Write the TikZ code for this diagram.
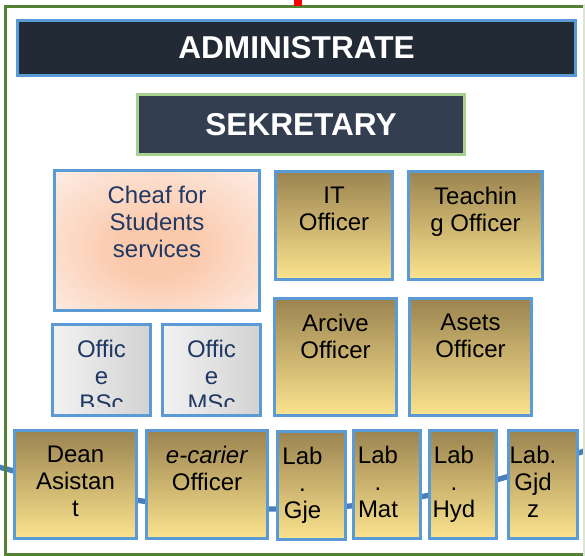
\documentclass[tikz,border=0pt]{standalone}
\usepackage{fontspec}
\setmainfont{Liberation Sans}
\usepackage{tikz}
\usetikzlibrary{positioning}
\newcommand{\pxu}{0.75pt}
\definecolor{rand}{HTML}{5B9BD5}
\definecolor{rahmen}{HTML}{548235}
\definecolor{rahmenhell}{HTML}{DCE5D5}
\definecolor{bogen}{HTML}{4A7EBB}
\definecolor{admin}{HTML}{222A35}
\definecolor{sek}{HTML}{333F50}
\definecolor{sekrand}{HTML}{A9D18E}
\definecolor{goldoben}{HTML}{9B8450}
\definecolor{goldunten}{HTML}{FBE38E}
\definecolor{grauhell}{HTML}{F2F2F2}
\definecolor{graudunkel}{HTML}{D2D2D2}
\definecolor{pfirsichinnen}{HTML}{FBCAAD}
\definecolor{pfirsichaussen}{HTML}{FDEAE0}
\definecolor{schriftblau}{HTML}{1F3864}
\pgfdeclareradialshading{pfirsich}{\pgfpoint{0bp}{-4bp}}{color(0bp)=(pfirsichinnen); color(10bp)=(pfirsichinnen); color(34bp)=(pfirsichaussen); color(50bp)=(pfirsichaussen)}

\begin{document}
\begin{tikzpicture}[x=0.75pt, y=-0.75pt, line width=2.25pt,
    kasten/.style={draw=rand, inner sep=0pt},
    gold/.style={kasten, top color=goldoben, bottom color=goldunten},
    grau/.style={kasten, left color=grauhell, right color=graudunkel},
    schrift/.style={inner sep=0pt, align=center, font=\fontsize{18}{20.25}\selectfont},
    titel/.style={text=white, font=\bfseries\fontsize{23.7}{28}\selectfont}]
    \useasboundingbox (0,0) rectangle (585,556);

    % Bogen.
    \coordinate (bogenL) at (-5,466);
    \coordinate (bogenR) at (590,449);
    \draw[color=bogen, line width=4pt] plot[smooth] coordinates {(bogenL) (142,501) (272,509) (350,506) (425,496) (503,478) (bogenR)};

    % Rahmen.
    \draw[color=rahmen, line width=2.5pt] (590,6.5) -- (5.7,6.5) -- (5.7,554.5) -- (590,554.5);
    \draw[color=rahmenhell, line width=1.5pt] (583.8,4) -- (583.8,556);
    \fill[red] (294,0) rectangle (302,6);

    % Leitung.
    \node[kasten, fill=admin, minimum width=558*\pxu, minimum height=55*\pxu, titel] (admin) at (296.5,48) {ADMINISTRATE};
    \node[kasten, draw=sekrand, fill=sek, minimum width=327*\pxu, minimum height=60*\pxu, titel] (sek) at (301,124.5) {SEKRETARY};

    % Obere Kaesten.
    \node[kasten, shading=pfirsich, minimum width=205*\pxu, minimum height=140*\pxu] (cheaf) at (157,240.5) {};
    \node[gold, minimum width=117*\pxu, minimum height=108*\pxu] (it) at (334,225.5) {};
    \node[gold, minimum width=134*\pxu, minimum height=108*\pxu] (teach) at (475.5,225.5) {};
    \node[gold, minimum width=122*\pxu, minimum height=117*\pxu] (arc) at (335.5,357) {};
    \node[gold, minimum width=122*\pxu, minimum height=117*\pxu] (asets) at (470.5,357) {};
    \node[grau, minimum width=98*\pxu, minimum height=91*\pxu] (bsc) at (101.5,370) {};
    \node[grau, minimum width=98*\pxu, minimum height=91*\pxu] (msc) at (211.5,370) {};

    \node[schrift, text=schriftblau, below=11.6pt of cheaf.north] (cheafT) {Cheaf for\\Students\\services};
    \node[schrift, below=11.6pt of it.north] (itT) {IT\\Officer};
    \node[schrift, below=11.6pt of teach.north] (teachT) {Teachin\\g Officer};
    \node[schrift, below=11.6pt of arc.north] (arcT) {Arcive\\Officer};
    \node[schrift, below=11.6pt of asets.north] (asetsT) {Asets\\Officer};
    \begin{scope}
        \clip (52,324) rectangle (262,406);
        \node[schrift, text=schriftblau, below=11.6pt of bsc.north] (bscT) {Offic\\e\\BSc};
        \node[schrift, text=schriftblau, below=11.6pt of msc.north] (mscT) {Offic\\e\\MSc};
    \end{scope}

    % Untere Reihe.
    \node[gold, minimum width=122*\pxu, minimum height=108*\pxu] (dean) at (75.5,484.5) {};
    \node[gold, minimum width=121*\pxu, minimum height=108*\pxu] (ecar) at (207,484.5) {};
    \node[gold, minimum width=68*\pxu, minimum height=108*\pxu] (gje) at (311.5,485.5) {};
    \node[gold, minimum width=67*\pxu, minimum height=108*\pxu] (mat) at (387,484.5) {};
    \node[gold, minimum width=67*\pxu, minimum height=108*\pxu] (hyd) at (463,484.5) {};
    \node[gold, minimum width=69*\pxu, minimum height=108*\pxu] (gjdz) at (543,484.5) {};

    \node[schrift, below=11.6pt of dean.north] (deanT) {Dean\\Asistan\\t};
    \node[schrift, below=11.6pt of ecar.north] (ecarT) {\textit{e-carier}\\Officer};
    \node[schrift, below=11.6pt of gje.north, xshift=-6.75pt] (gjeT) {Lab\\.\\Gje};
    \node[schrift, below=11.6pt of mat.north, xshift=-6.75pt] (matT) {Lab\\.\\Mat};
    \node[schrift, below=11.6pt of hyd.north, xshift=-6.75pt] (hydT) {Lab\\.\\Hyd};
    \node[schrift, below=11.6pt of gjdz.north, xshift=-7.5pt] (gjdzT) {Lab.\\Gjd\\z};
\end{tikzpicture}
\end{document}
